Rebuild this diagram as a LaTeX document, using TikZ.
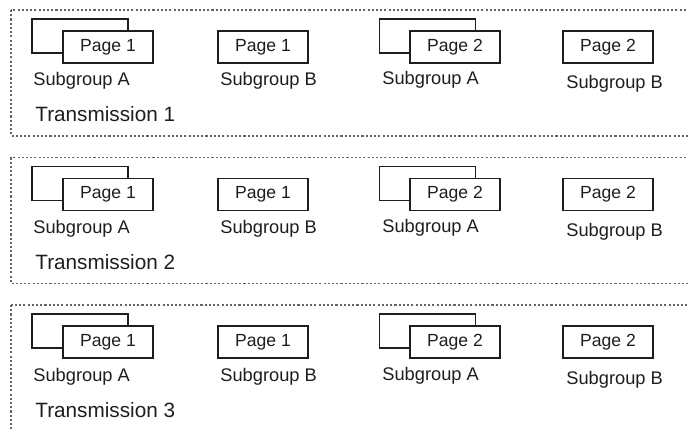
\documentclass[tikz,border=0pt]{standalone}
\usepackage{fontspec}
\setmainfont{Liberation Sans}
\usepackage{tikz}
\usetikzlibrary{calc}
\usetikzlibrary{positioning}
\usepackage{color}
\definecolor{inkgray}{RGB}{30, 30, 30}
\definecolor{framegray}{RGB}{100, 100, 100}

\begin{document}
\begin{tikzpicture}[x=0.02cm, y=-0.02cm,
    pagebox/.style={draw=inkgray, fill=white, line width=0.6pt, minimum width=1.8cm, minimum height=0.64cm, inner sep=0pt, text=inkgray, font=\fontsize{10}{12}\selectfont},
    backbox/.style={draw=inkgray, line width=0.6pt, minimum width=1.92cm, minimum height=0.68cm, inner sep=0pt},
    grouptext/.style={anchor=base west, inner sep=0pt, text=inkgray, font=\fontsize{10.4}{12}\selectfont},
    txtext/.style={anchor=base west, inner sep=0pt, text=inkgray, font=\fontsize{11.8}{14}\selectfont},
    txframe/.style={draw=framegray, line width=0.6pt, dash pattern=on 1.2pt off 1.2pt}]
  \useasboundingbox (0,0) rectangle (688,431);
  \clip (0,0) rectangle (688,431);
  \foreach \r/\dy/\bot in {1/0/136, 2/147.5/136, 3/295/160}{
    \draw[txframe] (11,10+\dy) rectangle (720,\bot+\dy);
    % page 1, subgroup A
    \node[backbox] (backA\r) at (80,36+\dy) {};
    \node[pagebox] (pageA\r) at (108,47+\dy) {Page 1};
    \node[grouptext] (subA\r) at (33,86+\dy) {Subgroup A};
    % page 1, subgroup B
    \node[pagebox] (pageB\r) at (263,47+\dy) {Page 1};
    \node[grouptext] (subB\r) at (220,86+\dy) {Subgroup B};
    % page 2, subgroup A
    \node[backbox] (backC\r) at (427.5,36+\dy) {};
    \node[pagebox] (pageC\r) at (455,47+\dy) {Page 2};
    \node[grouptext] (subC\r) at (382,85+\dy) {Subgroup A};
    % page 2, subgroup B
    \node[pagebox] (pageD\r) at (608,47+\dy) {Page 2};
    \node[grouptext] (subD\r) at (566,89+\dy) {Subgroup B};
    \node[txtext] (tx\r) at (35,122+\dy) {Transmission \r};
  }
\end{tikzpicture}
\end{document}
